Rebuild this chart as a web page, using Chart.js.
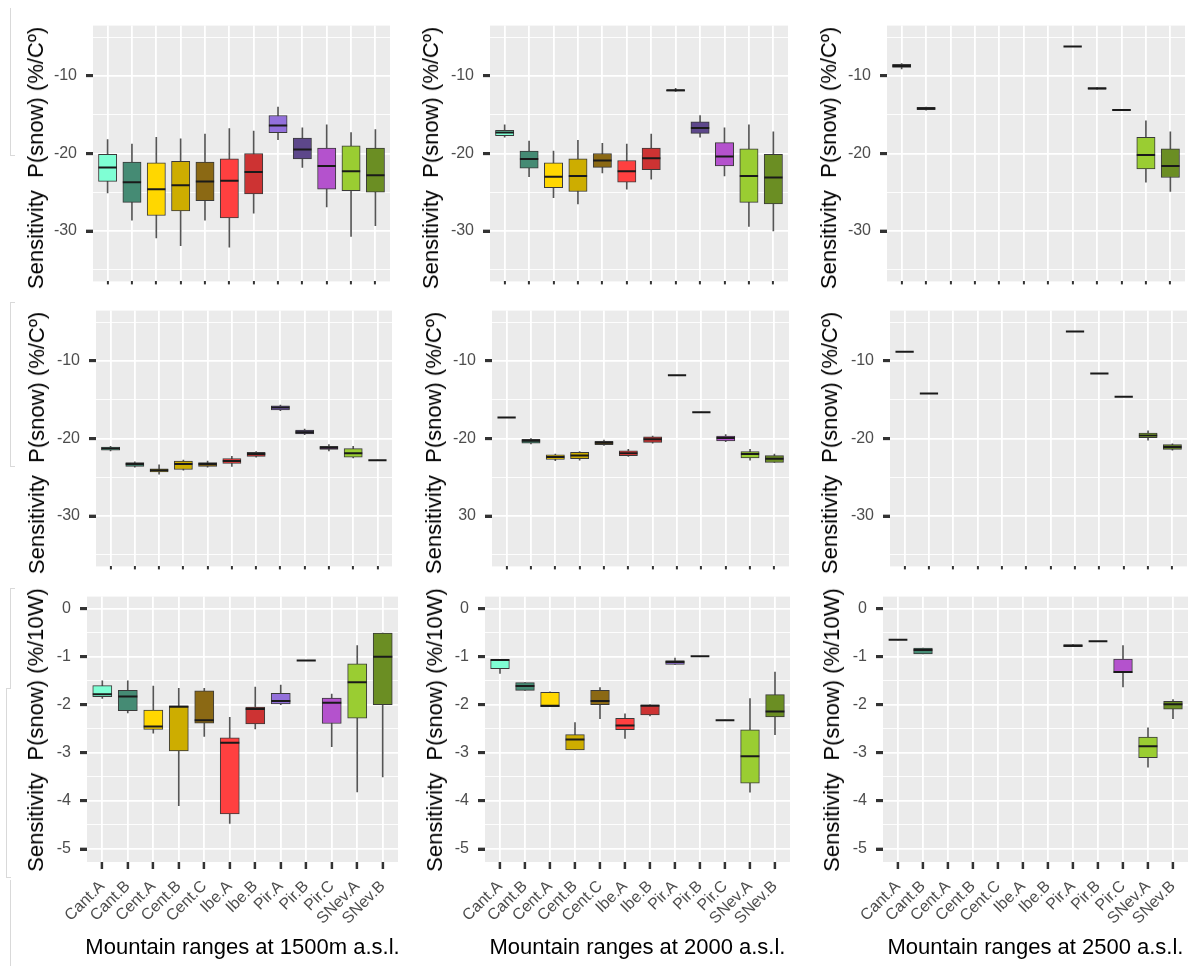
<!DOCTYPE html>
<html><head><meta charset="utf-8">
<script src="https://cdn.jsdelivr.net/npm/chart.js@4.4.1/dist/chart.umd.min.js"></script>
<style>
html,body{margin:0;padding:0;background:#fff;width:1198px;height:969px;overflow:hidden;position:relative;}
canvas.cv{position:absolute;}
.deco{position:absolute;background:#d9d9d9;}
.ytick{position:absolute;background:#333333;width:7px;height:3px;z-index:5;}
.ytitle,.xtitle{position:absolute;font-family:'Liberation Sans',Arial,Helvetica,sans-serif;font-size:22px;color:#000;white-space:pre;line-height:26px;}
.ytitle{transform:translate(-50%,-50%) rotate(-90deg);}
.xtitle{transform:translate(-50%,-50%);}
</style></head><body>
<div class="deco" style="left:10px;top:8px;width:1px;height:148px"></div>
<div class="deco" style="left:10px;top:155px;width:5px;height:1px"></div>
<div class="deco" style="left:10px;top:302px;width:1px;height:165px"></div>
<div class="deco" style="left:10px;top:302px;width:5px;height:1px"></div>
<div class="deco" style="left:10px;top:466px;width:5px;height:1px"></div>
<div class="deco" style="left:10px;top:588px;width:1px;height:100px"></div>
<div class="deco" style="left:10px;top:588px;width:5px;height:1px"></div>
<div class="deco" style="left:6px;top:688px;width:1px;height:190px"></div>
<div class="deco" style="left:6px;top:688px;width:5px;height:1px"></div>
<div class="deco" style="left:6px;top:877px;width:5px;height:1px"></div>
<div class="deco" style="left:10px;top:880px;width:1px;height:86px"></div>
<script>
// ---------- categories, colours, ticks ----------
const categories = ['Cant.A','Cant.B','Cent.A','Cent.B','Cent.C','Ibe.A','Ibe.B','Pir.A','Pir.B','Pir.C','SNev.A','SNev.B'];
const boxColors = ['#7FFFD4','#458B74','#FFD700','#CDAD00','#8B6914','#FF4040','#CD3333','#9370DB','#5D478B','#B452CD','#9ACD32','#6B8E23'];

const yGridTemp = [-35,-30,-25,-20,-15,-10,-5];
const yMajorTemp = [-10,-20,-30];
const yLabelsTemp = ['-10','-20','-30'];
const yLabelsTempAlt = ['-10','-20','30'];
const yGridW = [-5,-4.5,-4,-3.5,-3,-2.5,-2,-1.5,-1,-0.5,0];
const yMajorW = [0,-1,-2,-3,-4,-5];
const yLabelsW = ['0','-1','-2','-3','-4','-5'];

const yTitleTemp = 'Sensitivity  P(snow) (%/Cº)';
const yTitleW = 'Sensitivity  P(snow) (%/10W)';
const xTitles = ['Mountain ranges at 1500m a.s.l.','Mountain ranges at 2000 a.s.l.','Mountain ranges at 2500 a.s.l.'];

// ---------- values: [lower whisker, Q1, median, Q3, upper whisker] per category ----------
const temp1500a = [
  [-25.1,-23.6,-21.8,-20.1,-18.2],[-28.6,-26.3,-23.7,-21.1,-18.8],[-30.9,-28.0,-24.6,-21.2,-17.9],
  [-31.9,-27.4,-24.1,-21.0,-18.1],[-28.6,-26.1,-23.6,-21.1,-17.5],[-32.1,-28.3,-23.5,-20.7,-16.8],
  [-27.7,-25.2,-22.4,-20.0,-17.1],[-18.2,-17.3,-16.4,-15.1,-14.0],[-21.8,-20.7,-19.5,-18.0,-16.7],
  [-26.9,-24.6,-21.6,-19.3,-16.3],[-30.7,-24.8,-22.3,-19.0,-17.3],[-29.3,-25.0,-22.8,-19.3,-16.9]];
const temp2000a = [
  [-17.9,-17.7,-17.3,-17.0,-16.3],[-23.0,-21.9,-20.7,-19.7,-18.4],[-25.7,-24.4,-23.0,-21.2,-19.7],
  [-26.5,-24.9,-22.9,-20.7,-18.3],[-22.5,-21.8,-20.9,-20.0,-18.7],[-24.6,-23.7,-22.3,-20.9,-18.8],
  [-23.3,-22.1,-20.6,-19.3,-17.5],[-12.0,-11.95,-11.85,-11.8,-11.6],[-17.9,-17.4,-16.7,-15.9,-15.1],
  [-22.9,-21.6,-20.4,-18.6,-16.7],[-29.4,-26.3,-22.9,-19.4,-16.3],[-30.0,-26.5,-23.1,-20.1,-17.2]];
const temp2500a = [
  [-9.1,-8.9,-8.7,-8.5,-8.4],[-14.4,-14.35,-14.2,-14.05,-14.0],null,null,null,null,null,
  [-6.2,-6.2,-6.2,-6.2,-6.2],[-11.7,-11.7,-11.6,-11.5,-11.5],[-14.45,-14.45,-14.4,-14.35,-14.35],
  [-23.7,-22.0,-20.2,-17.9,-15.8],[-24.9,-23.1,-21.6,-19.4,-17.2]];
const temp1500b = [
  [-21.6,-21.5,-21.3,-21.1,-21.0],[-23.7,-23.6,-23.3,-23.1,-23.0],[-24.6,-24.3,-24.1,-23.9,-23.4],
  [-24.1,-24.0,-23.3,-22.9,-22.8],[-23.7,-23.6,-23.3,-23.1,-22.9],[-23.6,-23.2,-22.9,-22.6,-22.3],
  [-22.4,-22.3,-22.0,-21.8,-21.7],[-16.4,-16.3,-16.0,-15.8,-15.7],[-19.5,-19.4,-19.2,-18.9,-18.8],
  [-21.6,-21.4,-21.2,-21.0,-20.8],[-22.5,-22.4,-21.9,-21.3,-21.0],[-22.8,-22.8,-22.8,-22.8,-22.8]];
const temp2000b = [
  [-17.3,-17.3,-17.3,-17.3,-17.3],[-20.7,-20.6,-20.3,-20.1,-20.0],[-22.85,-22.7,-22.4,-22.1,-22.0],
  [-22.8,-22.6,-22.2,-21.8,-21.7],[-20.9,-20.8,-20.55,-20.35,-20.2],[-22.3,-22.2,-21.9,-21.6,-21.4],
  [-20.6,-20.5,-20.1,-19.8,-19.7],[-11.85,-11.85,-11.85,-11.85,-11.85],[-16.6,-16.6,-16.6,-16.6,-16.6],
  [-20.4,-20.3,-19.95,-19.7,-19.5],[-22.8,-22.5,-22.0,-21.7,-21.4],[-23.1,-23.1,-22.6,-22.2,-22.0]];
const temp2500b = [
  [-8.8,-8.8,-8.8,-8.8,-8.8],[-14.2,-14.2,-14.2,-14.2,-14.2],null,null,null,null,null,
  [-6.2,-6.2,-6.2,-6.2,-6.2],[-11.6,-11.6,-11.6,-11.6,-11.6],[-14.6,-14.6,-14.6,-14.6,-14.6],
  [-20.2,-19.9,-19.6,-19.3,-19.0],[-21.5,-21.4,-21.1,-20.8,-20.7]];
const rad1500 = [
  [-1.87,-1.83,-1.78,-1.60,-1.50],[-2.17,-2.12,-1.83,-1.70,-1.50],[-2.59,-2.51,-2.45,-2.11,-1.61],
  [-4.10,-2.96,-2.04,-2.02,-1.66],[-2.66,-2.38,-2.32,-1.71,-1.66],[-4.47,-4.27,-2.79,-2.69,-2.26],
  [-2.50,-2.40,-2.09,-2.05,-1.63],[-2.00,-1.98,-1.92,-1.76,-1.59],[-1.08,-1.08,-1.08,-1.08,-1.08],
  [-2.87,-2.39,-1.96,-1.86,-1.78],[-3.81,-2.28,-1.53,-1.15,-0.77],[-3.50,-2.00,-1.00,-0.51,-0.51]];
const rad2000 = [
  [-1.35,-1.25,-1.07,-1.06,-1.06],[-1.70,-1.70,-1.61,-1.54,-1.54],[-2.04,-2.04,-2.02,-1.74,-1.73],
  [-2.94,-2.94,-2.72,-2.62,-2.37],[-2.29,-2.00,-1.92,-1.70,-1.64],[-2.70,-2.52,-2.43,-2.28,-2.19],
  [-2.23,-2.21,-2.02,-2.00,-2.00],[-1.16,-1.16,-1.11,-1.08,-1.03],[-0.99,-0.99,-0.99,-0.99,-0.99],
  [-2.32,-2.32,-2.32,-2.32,-2.32],[-3.82,-3.63,-3.07,-2.52,-1.87],[-2.62,-2.25,-2.14,-1.79,-1.32]];
const rad2500 = [
  [-0.65,-0.65,-0.65,-0.65,-0.65],[-0.94,-0.94,-0.86,-0.82,-0.82],null,null,null,null,null,
  [-0.79,-0.79,-0.77,-0.75,-0.75],[-0.68,-0.68,-0.68,-0.68,-0.68],[-1.63,-1.33,-1.32,-1.05,-0.77],
  [-3.30,-3.10,-2.86,-2.67,-2.48],[-2.29,-2.09,-1.99,-1.93,-1.89]];

// ---------- panel layout (pixel frame of each plot area) ----------
const panels = [
  {data: temp1500a, kind:'T', labels: yLabelsTemp, left:93, right:390, top:22, bottom:290, titleX:36, last:false, col:0},
  {data: temp2000a, kind:'T', labels: yLabelsTemp, left:490, right:788, top:22, bottom:290, titleX:431, last:false, col:1},
  {data: temp2500a, kind:'T', labels: yLabelsTemp, left:887, right:1185, top:22, bottom:290, titleX:829, last:false, col:2},
  {data: temp1500b, kind:'T', labels: yLabelsTemp, left:96, right:392, top:307, bottom:575, titleX:37, last:false, col:0},
  {data: temp2000b, kind:'T', labels: yLabelsTempAlt, left:492, right:789, top:307, bottom:575, titleX:434, last:false, col:1},
  {data: temp2500b, kind:'T', labels: yLabelsTemp, left:890, right:1187, top:307, bottom:575, titleX:830, last:false, col:2},
  {data: rad1500, kind:'W', labels: yLabelsW, left:87, right:398, top:593, bottom:862, titleX:36, last:true, col:0},
  {data: rad2000, kind:'W', labels: yLabelsW, left:485, right:790, top:593, bottom:862, titleX:435, last:true, col:1},
  {data: rad2500, kind:'W', labels: yLabelsW, left:883, right:1188, top:593, bottom:862, titleX:832, last:true, col:2}
];

const FONT = "'Liberation Sans', Arial, Helvetica, sans-serif";

function addEl(cls, text, x, y) {
  const d = document.createElement('div');
  d.className = cls;
  if (text) d.textContent = text;
  d.style.left = x + 'px';
  d.style.top = y + 'px';
  document.body.appendChild(d);
  return d;
}

const bgPlugin = {
  id: 'panelBg',
  beforeDraw(chart) {
    const {ctx, chartArea: a} = chart;
    ctx.save();
    ctx.fillStyle = '#EBEBEB';
    ctx.fillRect(a.left, a.top, a.right - a.left, a.bottom - a.top);
    ctx.restore();
  }
};

function makePanel(p) {
  const cLeft = p.left - 52;
  const cTop = p.top - 15;
  const cRight = p.right + 16;
  const cBottom = p.last ? 930 : p.bottom + 10;
  const W = cRight - cLeft, H = cBottom - cTop;
  const cv = document.createElement('canvas');
  cv.className = 'cv';
  cv.width = W; cv.height = H;
  cv.style.left = cLeft + 'px'; cv.style.top = cTop + 'px';
  document.body.appendChild(cv);

  const isT = p.kind === 'T';
  addEl('ytitle', isT ? yTitleTemp : yTitleW, p.titleX, (p.top + p.bottom) / 2 + 2);
  if (p.last) addEl('xtitle', xTitles[p.col], (p.left + p.right) / 2, 947);

  const thick = 0.75 * (p.right - p.left) / 12.2;
  const idx = categories.map((c, i) => i).filter(i => p.data[i]);
  const yGrid = isT ? yGridTemp : yGridW;
  const yMajor = isT ? yMajorTemp : yMajorW;
  const yMin = isT ? -36.5 : -5.27;
  const yMax = isT ? -3.5 : 0.25;
  const isMajor = v => yMajor.some(m => Math.abs(m - v) < 1e-9);
  const yLineWidths = yGrid.map(v => isMajor(v) ? 1.8 : 0.9);

  const chart = new Chart(cv, {
    type: 'bar',
    data: {
      datasets: [
        { type: 'line', order: 1, data: idx.map(i => ({x: i, y: p.data[i][2]})),
          showLine: false, pointStyle: 'line', pointRadius: thick / 2, pointHoverRadius: thick / 2,
          pointBorderWidth: 2, pointBorderColor: '#1a1a1a', pointBackgroundColor: '#1a1a1a' },
        { type: 'bar', order: 2, grouped: false, data: idx.map(i => ({x: i, y: [p.data[i][1], p.data[i][3]]})),
          backgroundColor: idx.map(i => boxColors[i]), borderColor: '#3a3a3a', borderWidth: 1,
          borderSkipped: false, barThickness: thick },
        { type: 'bar', order: 3, grouped: false, data: idx.map(i => ({x: i, y: [p.data[i][0], p.data[i][4]]})),
          backgroundColor: '#555555', borderWidth: 0, barThickness: 1 }
      ]
    },
    options: {
      responsive: false, animation: false, devicePixelRatio: 1,
      layout: { padding: { top: p.top - cTop, right: cRight - p.right, left: 0, bottom: 0 } },
      plugins: { legend: { display: false }, tooltip: { enabled: false } },
      scales: {
        x: {
          type: 'linear', min: -0.6, max: 11.6, offset: false,
          afterBuildTicks: s => { s.ticks = categories.map((c, i) => ({value: i})); },
          afterFit: s => { s.height = cBottom - p.bottom; },
          ticks: {
            autoSkip: false, minRotation: p.last ? 45 : 0, maxRotation: p.last ? 45 : 0, padding: 8,
            font: { family: FONT, size: 16 }, color: '#4D4D4D',
            callback: v => p.last ? categories[v] : ''
          },
          grid: { offset: false, color: '#FFFFFF', lineWidth: 1.8, tickColor: '#333333',
                  tickLength: p.last ? 7 : 3, tickWidth: p.last ? 2.5 : 2 },
          border: { display: false }
        },
        y: {
          type: 'linear', min: yMin, max: yMax,
          afterBuildTicks: s => { s.ticks = yGrid.map(v => ({value: v})); },
          afterFit: s => { s.width = 52; },
          ticks: {
            autoSkip: false, padding: 9, font: { family: FONT, size: 16 }, color: '#4D4D4D',
            callback: v => { const k = yMajor.findIndex(m => Math.abs(m - v) < 1e-9); return k >= 0 ? p.labels[k] : ''; }
          },
          grid: { color: '#FFFFFF', lineWidth: yLineWidths, tickColor: '#333333', tickLength: 7, tickWidth: yGrid.map(v => isMajor(v) ? 2.5 : 0) },
          border: { display: false }
        }
      }
    },
    plugins: [bgPlugin]
  });

  // y tick marks at the labelled values, positioned from the chart's own y scale
  const a = chart.chartArea;
  yMajor.forEach(v => {
    const py = chart.scales.y.getPixelForValue(v);
    addEl('ytick', '', cLeft + a.left - 7, Math.round(cTop + py - 1.5));
  });
}
panels.forEach(makePanel);
</script>
</body></html>
